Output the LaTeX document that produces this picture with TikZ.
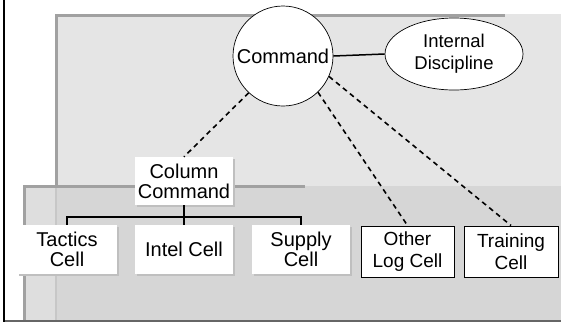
\documentclass[tikz,border=0pt]{standalone}
\usepackage{fontspec}
\setmainfont{Liberation Sans}
\usetikzlibrary{shapes.geometric}
\definecolor{panelA}{gray}{0.90}
\definecolor{panelB}{gray}{0.84}
\definecolor{panelBleft}{gray}{0.87}
\definecolor{barcol}{gray}{0.63}
\begin{document}
\begin{tikzpicture}[x=1pt,y=-1pt,
  cellbox/.style={rectangle,fill=white,inner sep=0pt,align=center,
    font=\fontsize{20}{20}\selectfont},
  framebox/.style={rectangle,fill=white,draw=black,line width=1pt,inner sep=0pt,align=center,
    font=\fontsize{19}{22}\selectfont},
  shadow/.style={fill=black!25},
  dashcon/.style={draw=black,dash pattern=on 5pt off 4pt,line width=1.6pt},
  treecon/.style={draw=black,line width=2pt},
  bar/.style={fill=barcol}]
\useasboundingbox (0,0) rectangle (561,322);
\fill[white] (0,0) rectangle (561,322);
% panels
\fill[panelA] (55,14) rectangle (561,187);
\fill[panelB] (23,186) rectangle (561,320);
\fill[panelBleft] (26,188) rectangle (55,320);
\fill[black!22] (55,188) rectangle (57,320);
\fill[bar] (55,14) rectangle (505,17);
\fill[bar] (55,14) rectangle (58,186);
\fill[bar] (23,185) rectangle (305,188);
\fill[bar] (23,185) rectangle (26,320);
\fill[black!60] (4,320) rectangle (561,322);
\fill[black] (3,0) rectangle (5,322);
% shadows of white boxes
\fill[shadow] (137,159) rectangle (235,207);
\fill[shadow] (19,227) rectangle (119,276);
\fill[shadow] (137,227) rectangle (235,276);
\fill[shadow] (254,227) rectangle (352,276);
% nodes
\node[cellbox,minimum width=98pt,minimum height=48pt] (col) at (184,181) {Column\\Command};
\node[cellbox,minimum width=100pt,minimum height=49pt] (tac) at (67,249.5) {Tactics\\Cell};
\node[cellbox,minimum width=98pt,minimum height=49pt] (int) at (184,249.5) {Intel Cell};
\node[cellbox,minimum width=98pt,minimum height=49pt] (sup) at (301,249.5) {Supply\\Cell};
\node[framebox,minimum width=93pt,minimum height=51pt] (oth) at (407.5,251.5) {Other\\Log Cell};
\node[framebox,minimum width=94pt,minimum height=51pt] (trn) at (511,251.5) {Training\\Cell};
\node[circle,draw=black,line width=0.7pt,fill=white,minimum size=100pt,inner sep=0pt,
  font=\fontsize{20}{20}\selectfont] (cmd) at (283,56) {Command};
\node[ellipse,draw=black,line width=0.7pt,fill=white,minimum width=138pt,minimum height=72pt,
  inner sep=0pt,align=center,font=\fontsize{18.5}{22}\selectfont] (disc) at (454,54) {Internal\\Discipline};
% connectors
\draw[line width=1.5pt] (cmd.east) -- (disc.west);
\draw[dashcon] (cmd.-133) -- (col.north);
\draw[dashcon] (cmd.-46) -- (oth.north);
\draw[dashcon] (cmd.-24) -- (trn.north);
\coordinate (jl) at (tac.north |- 0,217);
\coordinate (jr) at (sup.north |- 0,217);
\draw[treecon] (col.south) -- (int.north);
\draw[treecon] (tac.north) -- (jl) -- (jr) -- (sup.north);
\end{tikzpicture}
\end{document}
